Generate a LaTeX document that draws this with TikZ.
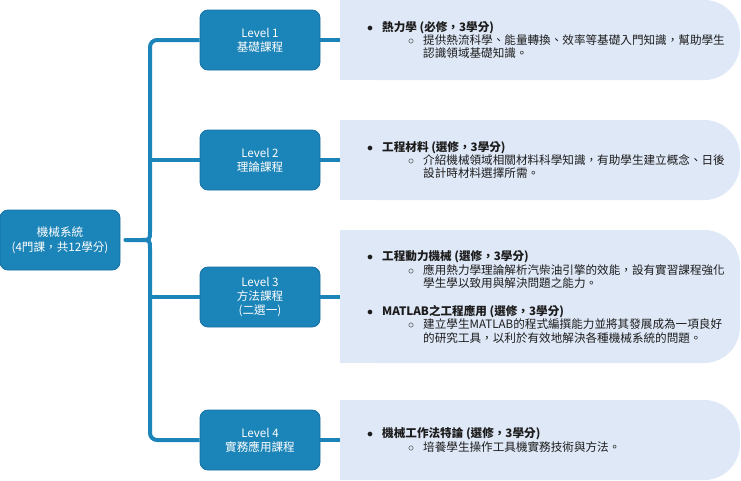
\documentclass[tikz,border=0pt]{standalone}
\usepackage{fontspec}
\setmainfont{Noto Sans CJK TC}
\usepackage{tikz}
\usepackage{xcolor}
\XeTeXlinebreaklocale "zh"
\XeTeXlinebreakskip=0pt plus 2pt
\definecolor{boxblue}{HTML}{1B84B8}
\definecolor{boxedge}{HTML}{1670A5}
\definecolor{panelbg}{HTML}{DFE8F7}
\definecolor{inkgray}{HTML}{1C1C1C}
\newcommand{\topic}[1]{\makebox[15pt][l]{$\bullet$}\textbf{#1}}
\newcommand{\detail}[1]{\hspace*{41pt}\makebox[15pt][l]{$\circ$}\makebox[310pt][s]{#1}}
\newcommand{\more}{\hspace*{56pt}}

\begin{document}
\begin{tikzpicture}[x=1pt,y=-1pt,
  level/.style={draw=boxedge, fill=boxblue, text=white, rounded corners=8pt, line width=0.8pt,
    minimum width=120pt, minimum height=60pt, align=center, font=\fontsize{11.6}{14}\selectfont},
  link/.style={draw=boxblue, line width=4pt},
  panel/.style={fill=panelbg},
  notes/.style={anchor=west, align=left, inner sep=0pt, text=inkgray, font=\fontsize{11.6}{13.3}\selectfont}]
\useasboundingbox (0,0) rectangle (741,480);

\fill[panel, rounded corners=36pt] (340,0) rectangle (740,80);
\fill[panel] (340,0) rectangle (420,80);
\fill[panel, rounded corners=36pt] (340,120) rectangle (740,200);
\fill[panel] (340,120) rectangle (420,200);
\fill[panel, rounded corners=36pt] (340,230) rectangle (740,363);
\fill[panel] (340,230) rectangle (420,363);
\fill[panel, rounded corners=36pt] (340,400) rectangle (740,480);
\fill[panel] (340,400) rectangle (420,480);

\node[level, font=\fontsize{11.6}{14.5}\selectfont] (sys) at (60,240) {機械系統\\(4門課，共12學分)};
\node[level] (lv1) at (260,40) {Level 1\\基礎課程};
\node[level] (lv2) at (260,160) {Level 2\\理論課程};
\node[level] (lv3) at (260,297) {Level 3\\方法課程\\(二選一)};
\node[level] (lv4) at (260,440) {Level 4\\實務應用課程};

\coordinate (spine) at (150,240);
\coordinate (p1) at (340,40);
\coordinate (p2) at (340,160);
\coordinate (p3) at (340,297);
\coordinate (p4) at (340,440);

\draw[link, line cap=round] ([xshift=5pt]sys.east) -- (141,240) .. controls (150,240) .. ([yshift=9pt]spine);
\draw[link] (141,240) .. controls (150,240) .. ([yshift=-9pt]spine);
\draw[link, rounded corners=7pt] ([yshift=9pt]spine) -- (spine |- lv1.west) -- (lv1.west);
\draw[link, rounded corners=7pt] ([yshift=-9pt]spine) -- (spine |- lv4.west) -- (lv4.west);
\draw[link] (spine |- lv2.west) -- (lv2.west);
\draw[link] (spine |- lv3.west) -- (lv3.west);
\draw[link] (lv1.east) -- (p1);
\draw[link] (lv2.east) -- (p2);
\draw[link] (lv3.east) -- (p3);
\draw[link] (lv4.east) -- (p4);

\node[notes] (txt1) at (367,40) {\topic{熱力學 (必修，3學分)}\\
  \detail{提供熱流科學、能量轉換、效率等基礎入門知識，幫助學生}\\
  \more 認識領域基礎知識。};
\node[notes] (txt2) at (367,160) {\topic{工程材料 (選修，3學分)}\\
  \detail{介紹機械領域相關材料科學知識，有助學生建立概念、日後}\\
  \more 設計時材料選擇所需。};
\node[notes] (txt3) at (367,297) {\topic{工程動力機械 (選修，3學分)}\\
  \detail{應用熱力學理論解析汽柴油引擎的效能，設有實習課程強化}\\
  \more 學生學以致用與解決問題之能力。\\[14.7pt]
  \topic{MATLAB之工程應用 (選修，3學分)}\\
  \detail{建立學生MATLAB的程式編撰能力並將其發展成為一項良好}\\
  \more 的研究工具，以利於有效地解決各種機械系統的問題。};
\node[notes] (txt4) at (367,440) {\topic{機械工作法特論 (選修，3學分)}\\
  \hspace*{41pt}\makebox[15pt][l]{$\circ$}培養學生操作工具機實務技術與方法。};
\end{tikzpicture}
\end{document}
